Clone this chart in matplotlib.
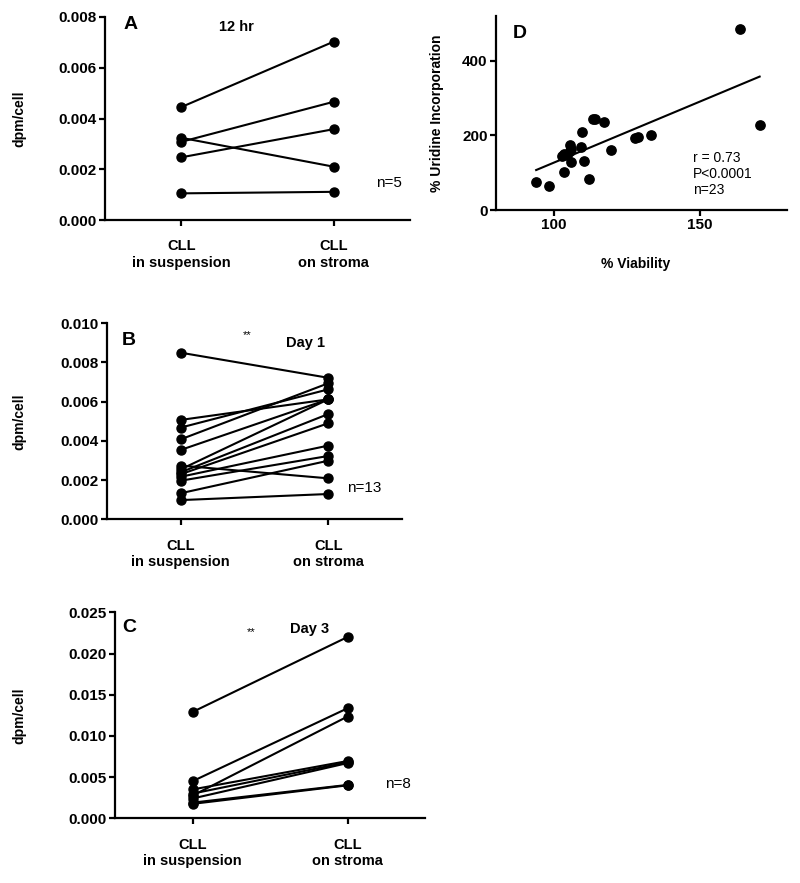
import numpy as np
import matplotlib
matplotlib.use('Agg')
import matplotlib.pyplot as plt

plt.rcParams['font.family'] = ['Liberation Sans', 'DejaVu Sans']

groups = ['CLL\nin suspension', 'CLL\non stroma']

# panel A, 12 hr (dpm/cell, x1e-3)
a_susp = [4.45, 3.08, 3.24, 2.47, 1.05]
a_stroma = [7.03, 4.66, 2.10, 3.58, 1.11]

# panel B, day 1
b_susp = [8.50, 5.07, 4.68, 4.08, 3.54, 2.74, 2.55, 2.40, 2.30, 2.17, 1.97, 1.33, 0.98]
b_stroma = [7.22, 6.12, 6.63, 6.94, 6.12, 2.09, 6.12, 5.37, 4.90, 3.76, 3.23, 2.99, 1.29]

# panel C, day 3
c_susp = [12.9, 4.50, 2.75, 3.50, 3.00, 2.40, 1.90, 1.75]
c_stroma = [22.0, 13.35, 12.35, 6.95, 6.80, 6.70, 4.05, 4.00]

# panel D, viability vs uridine incorporation
viab = [93.8, 98.1, 103.2, 102.6, 103.4, 104.4, 105.3, 105.5, 105.8, 105.7,
        109.2, 109.7, 110.2, 111.8, 113.5, 114.1, 117.2, 119.5, 127.6, 128.8,
        133.3, 164.0, 170.6]
urid = [76, 64, 103, 145, 150, 148, 173, 157, 130, 163,
        170, 210, 132, 83, 244, 244, 237, 161, 194, 197,
        200, 485, 228]

fig = plt.figure(figsize=(8, 8.83), dpi=100)


def style(ax):
    for s in ['top', 'right']:
        ax.spines[s].set_visible(False)
    for s in ['left', 'bottom']:
        ax.spines[s].set_linewidth(1.6)
    ax.tick_params(direction='out', length=4, width=1.6, labelsize=11, pad=2)
    for lab in ax.get_xticklabels() + ax.get_yticklabels():
        lab.set_fontweight('bold')


def paired(ax, susp, stroma, ymax, step, letter, title, stars, n_text, pos):
    susp = np.array(susp) / 1000
    stroma = np.array(stroma) / 1000
    for s, t in zip(susp, stroma):
        ax.plot([0, 1], [s, t], '-o', color='black', lw=1.5, ms=6.5, clip_on=False, zorder=3)
    ax.set_xlim(-0.5, 1.5)
    ax.set_ylim(0, ymax)
    ax.set_yticks(np.arange(0, ymax + step / 2, step))
    ax.yaxis.set_major_formatter(matplotlib.ticker.FormatStrFormatter('%.3f'))
    ax.set_xticks([0, 1])
    ax.set_xticklabels(groups)
    style(ax)
    ax.tick_params(axis='x', pad=10, labelsize=10.5)
    ax.set_ylabel('dpm/cell', fontsize=10, fontweight='bold')
    ax.text(pos['lx'], pos['ly'], letter, fontsize=14, fontweight='bold', ha='center', va='center')
    ax.text(pos['tx'], pos['ty'], title, fontsize=10.5, fontweight='bold', ha='center', va='center')
    if stars:
        ax.text(pos['sx'], pos['sy'], stars, fontsize=8, ha='center', va='center')
    ax.text(pos['nx'], pos['ny'], n_text, fontsize=11, ha='left', va='center')


ax_a = fig.add_axes([105 / 800, 1 - 220 / 883, 305 / 800, 203 / 883])
paired(ax_a, a_susp, a_stroma, 0.008, 0.002, 'A', '12 hr', None, 'n=5',
       dict(lx=-0.33, ly=0.0077, tx=0.36, ty=0.0076, nx=1.28, ny=0.00146))
ax_a.yaxis.set_label_coords(-0.257, 0.5)

ax_b = fig.add_axes([107 / 800, 1 - 519.3 / 883, 295 / 800, 196 / 883])
paired(ax_b, b_susp, b_stroma, 0.010, 0.002, 'B', 'Day 1', '**', 'n=13',
       dict(lx=-0.35, ly=0.0091, tx=0.846, ty=0.0090, sx=0.45, sy=0.0094, nx=1.13, ny=0.00158))
ax_b.yaxis.set_label_coords(-0.272, 0.5)

ax_c = fig.add_axes([115 / 800, 1 - 818.3 / 883, 310 / 800, 206 / 883])
paired(ax_c, c_susp, c_stroma, 0.025, 0.005, 'C', 'Day 3', '**', 'n=8',
       dict(lx=-0.41, ly=0.0231, tx=0.757, ty=0.0230, sx=0.38, sy=0.0226, nx=1.244, ny=0.00416))
ax_c.yaxis.set_label_coords(-0.286, 0.5)

# panel D
ax_d = fig.add_axes([496 / 800, 1 - 210 / 883, 291 / 800, 194 / 883])
ax_d.scatter(viab, urid, s=45, color='black', zorder=3, clip_on=False)
slope, icpt = np.polyfit(viab, urid, 1)
xf = np.array([min(viab), max(viab)])
ax_d.plot(xf, slope * xf + icpt, color='black', lw=1.5)
ax_d.set_xlim(80, 180)
ax_d.set_ylim(0, 520)
ax_d.set_xticks([100, 150])
ax_d.set_yticks([0, 200, 400])
style(ax_d)
ax_d.set_xlabel('% Viability', fontsize=10, fontweight='bold')
ax_d.xaxis.set_label_coords(0.48, -0.24)
ax_d.set_ylabel('% Uridine Incorporation', fontsize=10, fontweight='bold')
ax_d.yaxis.set_label_coords(-0.179, 0.5)
ax_d.text(88.3, 472, 'D', fontsize=14, fontweight='bold', ha='center', va='center')
ax_d.text(147.7, 157, 'r = 0.73\nP<0.0001\nn=23', fontsize=10, ha='left', va='top', linespacing=1.15)

fig.savefig('out.png', dpi=100)
